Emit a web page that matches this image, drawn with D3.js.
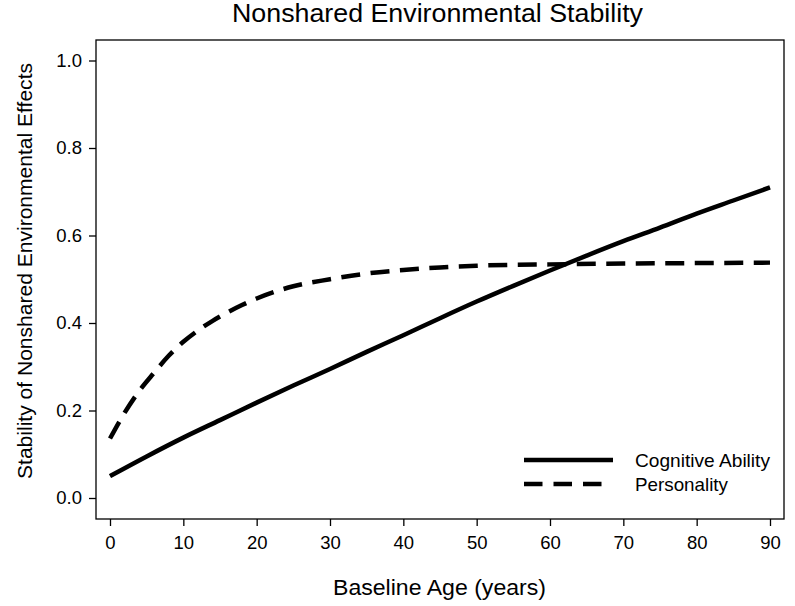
<!DOCTYPE html>
<html>
<head>
<meta charset="utf-8">
<script src="https://cdn.jsdelivr.net/npm/d3@7"></script>
<style>
  html, body { margin: 0; padding: 0; background: #fff; }
  svg { display: block; font-family: "Liberation Sans", Arial, sans-serif; }
</style>
</head>
<body>
<svg id="chart" width="795" height="606"></svg>
<script>
// ---- data ----
const cognitiveAges = [0, 5, 10, 15, 20, 25, 30, 35, 40, 45, 50, 55, 60, 65, 70, 75, 80, 85, 90];
const cognitiveValues = [0.050, 0.095, 0.138, 0.178, 0.218, 0.257, 0.295, 0.334, 0.372, 0.411, 0.449, 0.485, 0.520, 0.554, 0.587, 0.618, 0.650, 0.680, 0.710];
const personalityAges = [0, 2, 4, 6, 8, 10, 12, 14, 16, 18, 20, 25, 30, 35, 40, 45, 50, 60, 70, 80, 90];
const personalityValues = [0.136, 0.195, 0.245, 0.286, 0.325, 0.357, 0.383, 0.405, 0.424, 0.441, 0.456, 0.484, 0.500, 0.513, 0.521, 0.527, 0.531, 0.534, 0.536, 0.537, 0.538];
const xTicks = [0, 10, 20, 30, 40, 50, 60, 70, 80, 90];
const yTicks = [0.0, 0.2, 0.4, 0.6, 0.8, 1.0];
const seriesNames = ["Cognitive Ability", "Personality"];
const titleText = "Nonshared Environmental Stability";
const xLabel = "Baseline Age (years)";
const yLabel = "Stability of Nonshared Environmental Effects";

// ---- layout ----
const svg = d3.select("#chart");
const frame = { left: 96, right: 784, top: 40, bottom: 519 };

const x = d3.scaleLinear().domain([0, 90]).range([110, 770]);
const y = d3.scaleLinear().domain([0, 1]).range([498, 60.5]);

// frame
svg.append("rect")
  .attr("x", frame.left).attr("y", frame.top)
  .attr("width", frame.right - frame.left)
  .attr("height", frame.bottom - frame.top)
  .attr("fill", "none").attr("stroke", "#000").attr("stroke-width", 1.3);

// axes
const xAxis = d3.axisBottom(x).tickValues(xTicks).tickFormat(d3.format("d")).tickSizeOuter(0).tickSize(7).tickPadding(10);
const gx = svg.append("g").attr("transform", `translate(0,${frame.bottom})`).call(xAxis);
gx.select(".domain").remove();
gx.selectAll("text").attr("font-size", 18.5).attr("fill", "#000").attr("font-family", "Liberation Sans, Arial, sans-serif");
gx.selectAll("line").attr("stroke", "#000").attr("stroke-width", 1.3);

const yAxis = d3.axisLeft(y).tickValues(yTicks).tickFormat(d3.format(".1f")).tickSizeOuter(0).tickSize(7).tickPadding(7);
const gy = svg.append("g").attr("transform", `translate(${frame.left},0)`).call(yAxis);
gy.select(".domain").remove();
gy.selectAll("text").attr("font-size", 18.5).attr("fill", "#000").attr("font-family", "Liberation Sans, Arial, sans-serif");
gy.selectAll("line").attr("stroke", "#000").attr("stroke-width", 1.3);

// lines
const line = d3.line().x(d => x(d[0])).y(d => y(d[1])).curve(d3.curveMonotoneX);
const cogData = cognitiveAges.map((a, i) => [a, cognitiveValues[i]]);
const perData = personalityAges.map((a, i) => [a, personalityValues[i]]);

svg.append("path").datum(cogData).attr("d", line)
  .attr("fill", "none").attr("stroke", "#000").attr("stroke-width", 4.5);
svg.append("path").datum(perData).attr("d", line)
  .attr("fill", "none").attr("stroke", "#000").attr("stroke-width", 4.5)
  .attr("stroke-dasharray", "19,10.5");

// legend
const legend = svg.append("g");
const legendRows = [
  { name: seriesNames[0], dash: null, y: 460, len: 135 },
  { name: seriesNames[1], dash: "18.5,11", y: 484, len: 93 }
];
legendRows.forEach(r => {
  const ln = legend.append("line").attr("x1", 524).attr("x2", r.dash ? 602 : 613)
    .attr("y1", r.y).attr("y2", r.y).attr("stroke", "#000").attr("stroke-width", 4.5);
  if (r.dash) ln.attr("stroke-dasharray", r.dash);
  legend.append("text").attr("x", 635).attr("y", r.y).attr("dy", "0.35em")
    .attr("font-size", 19).attr("textLength", r.len).attr("lengthAdjust", "spacingAndGlyphs").text(r.name);
});

// title and axis labels
svg.append("text").attr("x", 437.5).attr("y", 22)
  .attr("text-anchor", "middle").attr("font-size", 25)
  .attr("textLength", 411).attr("lengthAdjust", "spacingAndGlyphs").text(titleText);
svg.append("text").attr("x", 439.5).attr("y", 595)
  .attr("text-anchor", "middle").attr("font-size", 21.5)
  .attr("textLength", 213).attr("lengthAdjust", "spacingAndGlyphs").text(xLabel);
svg.append("text").attr("transform", `translate(31.5,271) rotate(-90)`)
  .attr("text-anchor", "middle").attr("font-size", 21)
  .attr("textLength", 416).attr("lengthAdjust", "spacingAndGlyphs").text(yLabel);
</script>
</body>
</html>
